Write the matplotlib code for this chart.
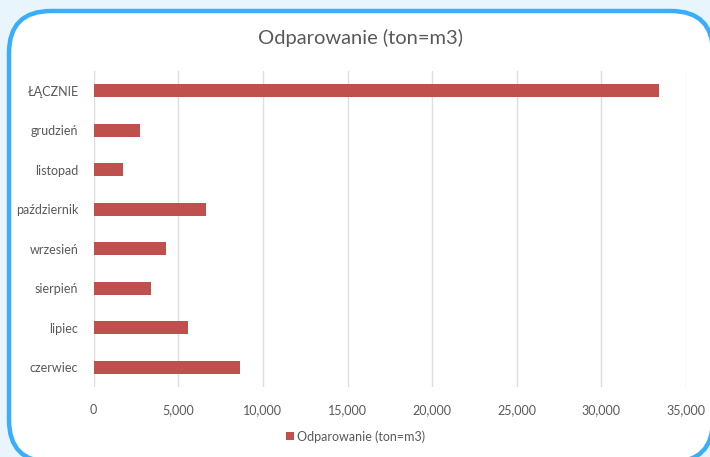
import matplotlib
matplotlib.use("Agg")
import matplotlib.pyplot as plt
from matplotlib.patches import FancyBboxPatch, Rectangle
from matplotlib.ticker import FuncFormatter, MultipleLocator

plt.rcParams['font.family'] = ['Lato', 'DejaVu Sans']

categories = ["czerwiec", "lipiec", "sierpień", "wrzesień",
              "październik", "listopad", "grudzień", "ŁĄCZNIE"]
values = [8650, 5600, 3400, 4300, 6650, 1750, 2750, 33400]
series_name = "Odparowanie (ton=m3)"
title = "Odparowanie (ton=m3)"

bar_color = "#c0504d"
text_color = "#595959"
grid_color = "#dedede"

W, H = 710, 457
fig = plt.figure(figsize=(W / 100, H / 100), dpi=100)
fig.patch.set_facecolor("#e9f5fd")

# Rounded white card with blue border, drawn in pixel space
bg = fig.add_axes([0, 0, 1, 1], zorder=-1)
bg.set_xlim(0, W)
bg.set_ylim(H, 0)
bg.axis("off")
card = FancyBboxPatch((9, 11), 704, 451,
                      boxstyle="round,pad=0,rounding_size=42",
                      facecolor="white", edgecolor="#38aefc", linewidth=3.2)
bg.add_patch(card)

ax = fig.add_axes([93.7 / W, 1 - 387 / H, (686 - 93.7) / W, (387 - 71) / H])
ax.set_facecolor("none")
y = list(range(len(categories)))
ax.barh(y, values, height=0.33, color=bar_color, zorder=3)

ax.set_xlim(0, 35000)
ax.set_ylim(-0.5, len(categories) - 0.5)
ax.set_yticks(y)
ax.set_yticklabels(categories)
ax.xaxis.set_major_locator(MultipleLocator(5000))
ax.xaxis.set_major_formatter(FuncFormatter(lambda v, p: f"{int(v):,}"))
ax.grid(axis="x", color=grid_color, linewidth=1.0, zorder=0)
for s in ax.spines.values():
    s.set_visible(False)
ax.tick_params(axis="both", length=0, labelsize=9, colors=text_color)
ax.tick_params(axis="y", pad=11)
ax.tick_params(axis="x", pad=12)

fig.text(360 / W, 1 - 38 / H, title, ha="center", va="center",
         fontsize=14.5, color=text_color)

# Legend
bg.add_patch(Rectangle((286, 432), 8, 8, facecolor=bar_color, edgecolor="none"))
bg.text(297, 437, series_name, ha="left", va="center", fontsize=9,
        color=text_color)

fig.savefig("out.png", dpi=100, facecolor=fig.get_facecolor())
